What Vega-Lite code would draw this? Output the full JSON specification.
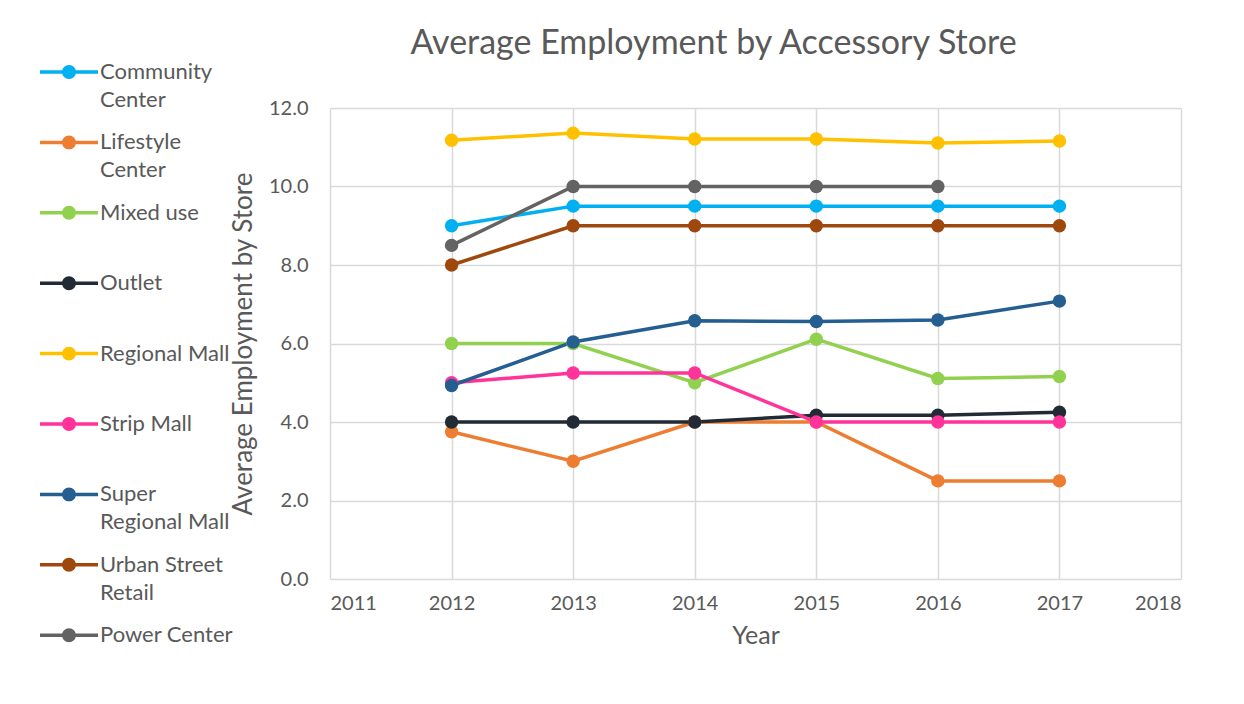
{
  "$schema": "https://vega.github.io/schema/vega-lite/v6.json",
  "width": 851,
  "height": 471,
  "autosize": {"type": "none"},
  "padding": {"left": 330, "top": 108, "right": 63, "bottom": 125},
  "background": "white",
  "config": {
    "font": "Lato",
    "view": {"stroke": null},
    "style": {"guide-label": {"lineHeight": 28}},
    "axis": {
      "labelFont": "Lato", "labelFontSize": 20, "labelColor": "#595959",
      "titleFont": "Lato", "titleFontSize": 25, "titleColor": "#595959", "titleFontWeight": "normal",
      "gridColor": "#d9d9d9", "gridWidth": 1.5, "domain": false, "ticks": false
    }
  },
  "title": {
    "text": "Average Employment by Accessory Store",
    "font": "Lato", "fontSize": 34, "fontWeight": "normal", "color": "#595959",
    "anchor": "middle", "frame": "group", "dx": -42, "baseline": "alphabetic", "offset": -45
  },
  "data": {
    "values": [
      {"year": 2012, "type": "Community Center", "value": 9.0},
      {"year": 2013, "type": "Community Center", "value": 9.5},
      {"year": 2014, "type": "Community Center", "value": 9.5},
      {"year": 2015, "type": "Community Center", "value": 9.5},
      {"year": 2016, "type": "Community Center", "value": 9.5},
      {"year": 2017, "type": "Community Center", "value": 9.5},
      {"year": 2012, "type": "Lifestyle Center", "value": 3.75},
      {"year": 2013, "type": "Lifestyle Center", "value": 3.0},
      {"year": 2014, "type": "Lifestyle Center", "value": 4.0},
      {"year": 2015, "type": "Lifestyle Center", "value": 4.0},
      {"year": 2016, "type": "Lifestyle Center", "value": 2.5},
      {"year": 2017, "type": "Lifestyle Center", "value": 2.5},
      {"year": 2012, "type": "Mixed use", "value": 6.0},
      {"year": 2013, "type": "Mixed use", "value": 6.0},
      {"year": 2014, "type": "Mixed use", "value": 5.0},
      {"year": 2015, "type": "Mixed use", "value": 6.11},
      {"year": 2016, "type": "Mixed use", "value": 5.11},
      {"year": 2017, "type": "Mixed use", "value": 5.16},
      {"year": 2012, "type": "Outlet", "value": 4.0},
      {"year": 2013, "type": "Outlet", "value": 4.0},
      {"year": 2014, "type": "Outlet", "value": 4.0},
      {"year": 2015, "type": "Outlet", "value": 4.17},
      {"year": 2016, "type": "Outlet", "value": 4.17},
      {"year": 2017, "type": "Outlet", "value": 4.25},
      {"year": 2012, "type": "Regional Mall", "value": 11.18},
      {"year": 2013, "type": "Regional Mall", "value": 11.36},
      {"year": 2014, "type": "Regional Mall", "value": 11.21},
      {"year": 2015, "type": "Regional Mall", "value": 11.21},
      {"year": 2016, "type": "Regional Mall", "value": 11.11},
      {"year": 2017, "type": "Regional Mall", "value": 11.16},
      {"year": 2012, "type": "Strip Mall", "value": 5.0},
      {"year": 2013, "type": "Strip Mall", "value": 5.25},
      {"year": 2014, "type": "Strip Mall", "value": 5.25},
      {"year": 2015, "type": "Strip Mall", "value": 4.0},
      {"year": 2016, "type": "Strip Mall", "value": 4.0},
      {"year": 2017, "type": "Strip Mall", "value": 4.0},
      {"year": 2012, "type": "Super Regional Mall", "value": 4.93},
      {"year": 2013, "type": "Super Regional Mall", "value": 6.04},
      {"year": 2014, "type": "Super Regional Mall", "value": 6.58},
      {"year": 2015, "type": "Super Regional Mall", "value": 6.56},
      {"year": 2016, "type": "Super Regional Mall", "value": 6.6},
      {"year": 2017, "type": "Super Regional Mall", "value": 7.08},
      {"year": 2012, "type": "Urban Street Retail", "value": 8.0},
      {"year": 2013, "type": "Urban Street Retail", "value": 9.0},
      {"year": 2014, "type": "Urban Street Retail", "value": 9.0},
      {"year": 2015, "type": "Urban Street Retail", "value": 9.0},
      {"year": 2016, "type": "Urban Street Retail", "value": 9.0},
      {"year": 2017, "type": "Urban Street Retail", "value": 9.0},
      {"year": 2012, "type": "Power Center", "value": 8.5},
      {"year": 2013, "type": "Power Center", "value": 10.0},
      {"year": 2014, "type": "Power Center", "value": 10.0},
      {"year": 2015, "type": "Power Center", "value": 10.0},
      {"year": 2016, "type": "Power Center", "value": 10.0}
    ]
  },
  "encoding": {
    "x": {
      "field": "year", "type": "quantitative",
      "scale": {"domain": [2011, 2018], "nice": false, "zero": false},
      "axis": {"title": "Year", "values": [2011, 2012, 2013, 2014, 2015, 2016, 2017, 2018], "format": "d", "labelPadding": 14, "titlePadding": 10}
    },
    "y": {
      "field": "value", "type": "quantitative",
      "scale": {"domain": [0, 12], "nice": false},
      "axis": {"title": "Average Employment by Store", "titleFontSize": 26, "values": [0, 2, 4, 6, 8, 10, 12], "format": ".1f", "labelPadding": 22, "titlePadding": 12}
    },
    "color": {
      "field": "type", "type": "nominal",
      "scale": {
        "domain": ["Community Center", "Lifestyle Center", "Mixed use", "Outlet", "Regional Mall", "Strip Mall", "Super Regional Mall", "Urban Street Retail", "Power Center"],
        "range": ["#00B0F0", "#ED7D31", "#92D050", "#222A35", "#FFC000", "#FF3399", "#255E91", "#9E480E", "#636363"]
      },
      "legend": {
        "orient": "none", "legendX": -290, "legendY": -65, "title": null, "padding": 0,
        "symbolType": "M-1,-0.06 L-0.23,-0.06 L-0.23,0.06 L-1,0.06 Z M0.23,-0.06 L1,-0.06 L1,0.06 L0.23,0.06 Z M-0.24,0 A0.24,0.24 0 1,1 0.24,0 A0.24,0.24 0 1,1 -0.24,0 Z",
        "symbolSize": 3364, "symbolStrokeWidth": 0, "symbolOpacity": 1,
        "labelFont": "Lato", "labelFontSize": 22, "labelColor": "#595959", "labelLimit": 300, "labelOffset": 2,
        "labelBaseline": "middle", "rowPadding": 2.4,
        "labelExpr": "datum.label == 'Community Center' ? ['Community', 'Center'] : datum.label == 'Lifestyle Center' ? ['Lifestyle', 'Center'] : datum.label == 'Super Regional Mall' ? ['Super', 'Regional Mall'] : datum.label == 'Urban Street Retail' ? ['Urban Street', 'Retail'] : [datum.label, ' ']"
      }
    }
  },
  "layer": [
    {
      "mark": {"type": "line", "strokeWidth": 3.5}
    },
    {
      "mark": {"type": "point", "filled": true, "size": 180, "opacity": 1}
    }
  ]
}
